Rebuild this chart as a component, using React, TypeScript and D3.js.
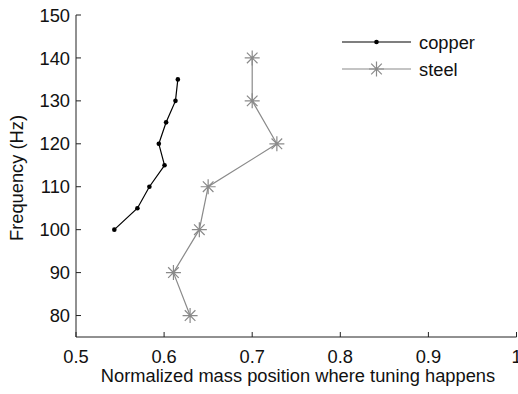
import React from "react";
import * as d3 from "d3";

const copperX = [0.5435, 0.5697, 0.5833, 0.6005, 0.594, 0.6023, 0.6129, 0.6156];
const copperY = [100, 105, 110, 115, 120, 125, 130, 135];
const steelX = [0.6295, 0.6106, 0.64, 0.65, 0.728, 0.7, 0.7];
const steelY = [80, 90, 100, 110, 120, 130, 140];
const xTicks = [0.5, 0.6, 0.7, 0.8, 0.9, 1];
const yTicks = [80, 90, 100, 110, 120, 130, 140, 150];
const legendLabels = ["copper", "steel"];

const W = 518, H = 394;
const FONT = "'Liberation Sans', Arial, Helvetica, sans-serif";
const FS = 18.3;

export default function App() {
  const x = d3.scaleLinear().domain([0.5, 1]).range([76, 516.5]);
  const y = d3.scaleLinear().domain([75, 150]).range([337, 15]);
  const line = d3.line<[number, number]>().x(d => x(d[0])).y(d => y(d[1]));
  const copper = copperX.map((v, i) => [v, copperY[i]] as [number, number]);
  const steel = steelX.map((v, i) => [v, steelY[i]] as [number, number]);
  const grey = "#8a8a8a";
  const star = (cx: number, cy: number, r: number, key: string) => {
    const segs = [0, 45, 90, 135].map(a => {
      const rad = (a * Math.PI) / 180;
      return `M${cx - r * Math.cos(rad)},${cy - r * Math.sin(rad)}L${cx + r * Math.cos(rad)},${cy + r * Math.sin(rad)}`;
    });
    return <path key={key} d={segs.join("")} stroke={grey} strokeWidth={1.2} fill="none" />;
  };
  return (
    <svg width={W} height={H} style={{ position: "absolute", left: 0, top: 0, background: "#fff" }} fontFamily={FONT}>
      {/* axes */}
      <path d={`M${x(0.5)},${y(150)}L${x(0.5)},${y(75)}L${x(1)},${y(75)}`} stroke="#222" fill="none" strokeWidth={1} />
      {yTicks.map(t => (
        <g key={"y" + t}>
          <line x1={x(0.5)} x2={x(0.5) + 5} y1={y(t)} y2={y(t)} stroke="#222" />
          <text x={70} y={y(t)} dy="0.36em" textAnchor="end" fontSize={FS} fill="#111">{t}</text>
        </g>
      ))}
      {xTicks.map(t => (
        <g key={"x" + t}>
          <line x1={x(t)} x2={x(t)} y1={y(75)} y2={y(75) - 5} stroke="#222" />
          <text x={x(t)} y={363} textAnchor="middle" fontSize={FS} fill="#111">{d3.format("~g")(t)}</text>
        </g>
      ))}
      <text x={298} y={382} textAnchor="middle" fontSize={FS} fill="#111">Normalized mass position where tuning happens</text>
      <text transform={`translate(23,178) rotate(-90)`} textAnchor="middle" fontSize={FS} fill="#111">Frequency (Hz)</text>
      {/* copper */}
      <path d={line(copper) || ""} stroke="#000" fill="none" strokeWidth={1.2} />
      {copper.map((d, i) => <circle key={"c" + i} cx={x(d[0])} cy={y(d[1])} r={2.3} fill="#000" />)}
      {/* steel */}
      <path d={line(steel) || ""} stroke={grey} fill="none" strokeWidth={1.2} />
      {steel.map((d, i) => star(x(d[0]), y(d[1]), 7.5, "s" + i))}
      {/* legend */}
      <g>
        <line x1={342} x2={411} y1={42} y2={42} stroke="#000" strokeWidth={1.2} />
        <circle cx={376.5} cy={42} r={2.3} fill="#000" />
        <text x={419} y={42} dy="0.36em" fontSize={FS} fill="#111">{legendLabels[0]}</text>
        <line x1={342} x2={411} y1={69} y2={69} stroke={grey} strokeWidth={1.2} />
        {star(376.5, 69, 7.5, "ls")}
        <text x={419} y={69} dy="0.36em" fontSize={FS} fill="#111">{legendLabels[1]}</text>
      </g>
    </svg>
  );
}
